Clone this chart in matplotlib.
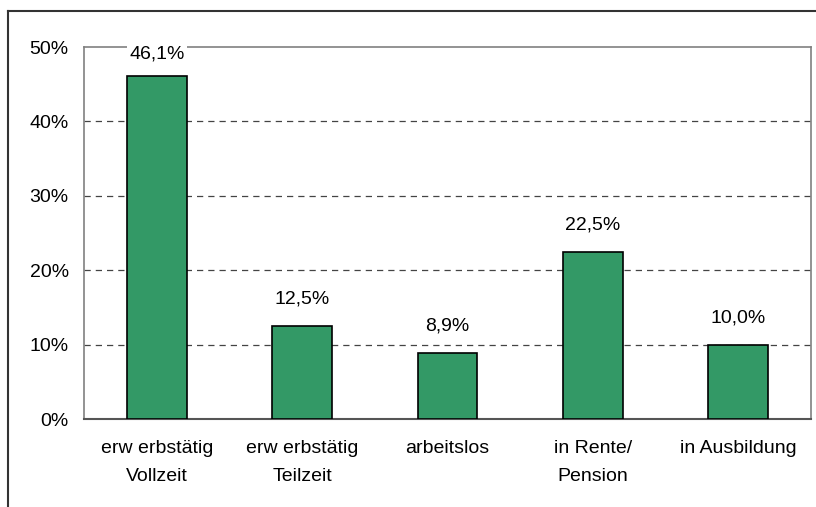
# Erwerbsstatus - Balkendiagramm
import numpy as np
import matplotlib.pyplot as plt
from matplotlib.lines import Line2D

plt.rcParams['font.family'] = ['Liberation Sans', 'DejaVu Sans']

# Daten
kategorien = ['erw erbstätig\nVollzeit', 'erw erbstätig\nTeilzeit', 'arbeitslos',
              'in Rente/\nPension', 'in Ausbildung']
anteile = [46.1, 12.5, 8.9, 22.5, 10.0]
beschriftungen = ['46,1%', '12,5%', '8,9%', '22,5%', '10,0%']
y_ticks = [0, 10, 20, 30, 40, 50]
y_labels = ['0%', '10%', '20%', '30%', '40%', '50%']

fig = plt.figure(figsize=(8.16, 5.07), dpi=100)
W, H = 816, 507
ax = fig.add_axes([84 / W, 1 - 419 / H, (811 - 84) / W, (419 - 47) / H])

x = np.arange(len(anteile))
ax.bar(x, anteile, width=0.41, color='#339966', edgecolor='black', linewidth=1.2, zorder=3)

fs = 14
ax.set_xlim(-0.5, len(anteile) - 0.5)
ax.set_ylim(0, 50)
ax.set_yticks(y_ticks)
ax.set_yticklabels(y_labels, fontsize=fs)
ax.set_xticks(x)
ax.set_xticklabels(kategorien, fontsize=fs, linespacing=1.85)
ax.tick_params(axis='both', length=0)
ax.tick_params(axis='y', pad=11)
ax.tick_params(axis='x', pad=15)

for g in y_ticks[1:-1]:
    ax.axhline(g, color='#444444', linestyle=(0, (5, 4)), linewidth=0.9, zorder=1)

for s in ['left', 'right', 'top']:
    ax.spines[s].set_color('#808080')
    ax.spines[s].set_linewidth(1.2)
ax.spines['bottom'].set_color('#555555')
ax.spines['bottom'].set_linewidth(1.5)

for xi, v, t in zip(x, anteile, beschriftungen):
    off = 10 if v > 40 else 13
    ax.annotate(t, (xi, v), xytext=(0, off), textcoords='offset points', ha='center',
                va='bottom', fontsize=fs, zorder=5, clip_on=False,
                bbox=dict(facecolor='white', edgecolor='none', pad=1.5))

# äußerer Rahmen (rechts und unten abgeschnitten)
fig.add_artist(Line2D([8 / W, 1], [1 - 11 / H, 1 - 11 / H], color='#333333', linewidth=1.5))
fig.add_artist(Line2D([8 / W, 8 / W], [0, 1 - 11 / H], color='#333333', linewidth=1.5))

fig.savefig('out.png', dpi=100)
